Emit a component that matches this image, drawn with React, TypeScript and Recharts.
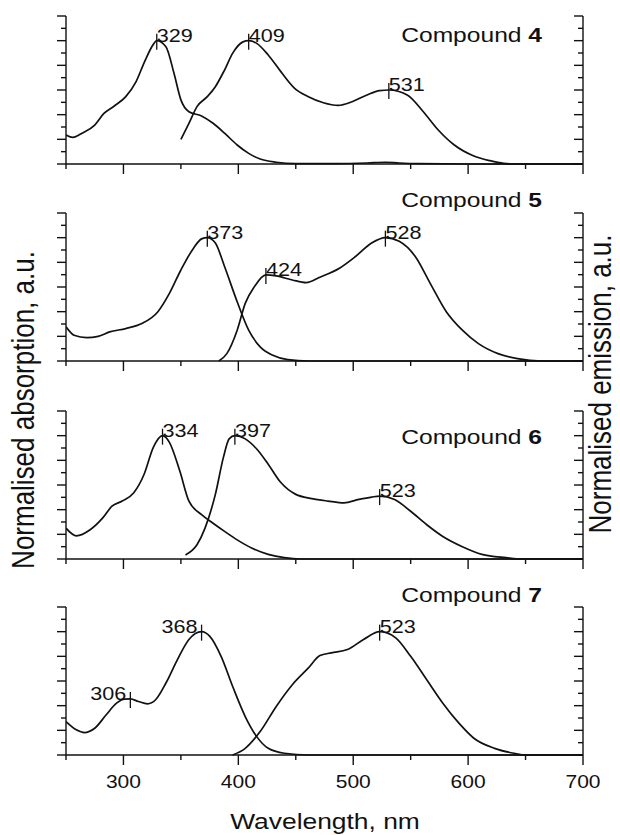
import React from 'react'
import { ComposedChart, Line, Scatter, XAxis, YAxis } from 'recharts'

type Pt = [number, number]
type Peak = { wl: number; v: number; side: 'left' | 'right' }

const xTicks = [250, 300, 350, 400, 450, 500, 550, 600, 650, 700]
const yTicks = [0, 0.1, 0.2, 0.3, 0.4, 0.5, 0.6, 0.7, 0.8, 0.9, 1, 1.1, 1.2]
const compounds = ['4', '5', '6', '7']

// compound 4
const abs4: Pt[] = [
  [250, 0.235], [256, 0.216], [264, 0.25], [275, 0.316], [283, 0.41], [292, 0.47],
  [302, 0.546], [311, 0.668], [319, 0.843], [326, 0.97], [329, 1.0], [337, 0.95],
  [344, 0.735], [350, 0.52], [357, 0.424], [368, 0.39], [378, 0.33], [388, 0.25],
  [399, 0.154], [409, 0.086], [419, 0.04], [433, 0.014], [450, 0.003], [485, 0.003],
  [512, 0.008], [528, 0.014], [540, 0.008], [557, 0.003], [600, 0], [700, 0],
]
const em4: Pt[] = [
  [350, 0.2], [357, 0.33], [364, 0.465], [373, 0.546], [380, 0.627], [388, 0.762],
  [395, 0.897], [404, 0.99], [409, 1.0], [416, 0.978], [426, 0.884], [437, 0.749],
  [449, 0.614], [461, 0.546], [474, 0.497], [487, 0.476], [499, 0.505], [512, 0.56],
  [523, 0.595], [531, 0.6], [547, 0.56], [561, 0.424], [574, 0.276], [588, 0.154],
  [605, 0.065], [619, 0.027], [631, 0.005], [640, 0], [700, 0],
]
const peaks4: Peak[] = [
  { wl: 329, v: 1.0, side: 'right' },
  { wl: 409, v: 1.0, side: 'right' },
  { wl: 531, v: 0.6, side: 'right' },
]

// compound 5
const abs5: Pt[] = [
  [250, 0.277], [257, 0.209], [268, 0.19], [278, 0.2], [288, 0.236], [302, 0.263],
  [316, 0.304], [330, 0.4], [340, 0.548], [350, 0.738], [361, 0.915], [368, 0.99],
  [373, 1.0], [380, 0.956], [388, 0.766], [399, 0.48], [409, 0.25], [419, 0.114],
  [430, 0.046], [443, 0.011], [461, 0], [700, 0],
]
const em5: Pt[] = [
  [383, 0], [390, 0.06], [399, 0.25], [406, 0.467], [414, 0.603], [424, 0.698],
  [433, 0.69], [447, 0.657], [459, 0.635], [471, 0.679], [488, 0.752], [502, 0.847],
  [516, 0.956], [528, 1.0], [540, 0.97], [554, 0.847], [567, 0.63], [581, 0.4],
  [595, 0.25], [609, 0.141], [626, 0.06], [643, 0.019], [664, 0], [700, 0],
]
const peaks5: Peak[] = [
  { wl: 373, v: 1.0, side: 'right' },
  { wl: 424, v: 0.698, side: 'right' },
  { wl: 528, v: 1.0, side: 'right' },
]

// compound 6
const abs6: Pt[] = [
  [250, 0.25], [259, 0.188], [271, 0.237], [282, 0.333], [290, 0.428], [299, 0.47],
  [309, 0.537], [318, 0.687], [326, 0.905], [334, 1.0], [340, 0.946], [349, 0.715],
  [357, 0.469], [368, 0.36], [378, 0.29], [388, 0.224], [399, 0.155], [412, 0.087],
  [426, 0.038], [440, 0.011], [454, 0], [700, 0],
]
const em6: Pt[] = [
  [354, 0.033], [364, 0.115], [371, 0.25], [380, 0.524], [387, 0.824], [392, 0.974],
  [397, 1.0], [406, 0.974], [416, 0.892], [426, 0.769], [437, 0.62], [450, 0.524],
  [464, 0.49], [478, 0.47], [492, 0.455], [505, 0.483], [516, 0.502], [523, 0.51],
  [536, 0.483], [550, 0.387], [564, 0.278], [578, 0.183], [595, 0.1], [612, 0.038],
  [633, 0.011], [647, 0], [700, 0],
]
const peaks6: Peak[] = [
  { wl: 334, v: 1.0, side: 'right' },
  { wl: 397, v: 1.0, side: 'right' },
  { wl: 523, v: 0.51, side: 'right' },
]

// compound 7
const abs7: Pt[] = [
  [250, 0.271], [259, 0.204], [266, 0.182], [275, 0.217], [285, 0.326], [294, 0.42],
  [301, 0.453], [306, 0.455], [313, 0.434], [321, 0.415], [328, 0.448], [337, 0.584],
  [347, 0.774], [357, 0.937], [368, 1.0], [375, 0.964], [385, 0.8], [395, 0.557],
  [406, 0.312], [416, 0.149], [426, 0.054], [440, 0.014], [461, 0], [700, 0],
]
const em7: Pt[] = [
  [395, 0], [406, 0.054], [419, 0.19], [433, 0.394], [447, 0.57], [461, 0.706],
  [471, 0.806], [481, 0.828], [495, 0.855], [509, 0.937], [523, 1.0], [537, 0.95],
  [550, 0.8], [564, 0.61], [578, 0.42], [592, 0.258], [605, 0.136], [623, 0.054],
  [640, 0.014], [650, 0], [700, 0],
]
const peaks7: Peak[] = [
  { wl: 306, v: 0.455, side: 'left' },
  { wl: 368, v: 1.0, side: 'left' },
  { wl: 523, v: 1.0, side: 'right' },
]

const absorption = [abs4, abs5, abs6, abs7]
const emission = [em4, em5, em6, em7]
const peaks = [peaks4, peaks5, peaks6, peaks7]

const FONT = '"Liberation Sans", Arial, sans-serif'
const INK = '#111'
const STRETCH = 1.2 // the source figure's lettering is wider than Arial
const panelTops = [16, 213, 411, 607]
const labelBaselines = [42, 207, 444, 602]
const PLOT_H = 148
const TOP_M = 10

const toRows = (pts: Pt[]) => pts.map(([x, y]) => ({ x, y }))

function Wide({ x, y, size, anchor = 'start', children }: any) {
  return (
    <text
      transform={`translate(${x} ${y}) scale(${STRETCH} 1)`}
      textAnchor={anchor}
      fontSize={size}
      fill={INK}
      fontFamily={FONT}
    >
      {children}
    </text>
  )
}

function YTick(props: any) {
  const { x, y, payload } = props
  const major = Math.round(payload.value * 10) % 2 === 0
  const len = major ? 9 : 5
  return <line x1={x - len} x2={x} y1={y} y2={y} stroke={INK} strokeWidth={1.4} />
}

function XTick(props: any) {
  const { x, y, payload, labels } = props
  const major = payload.value % 100 === 0
  return (
    <g>
      <line x1={x} x2={x} y1={y} y2={y + (major ? 10 : 5)} stroke={INK} strokeWidth={1.4} />
      {labels && major && (
        <Wide x={x} y={y + 33} size={17.5} anchor="middle">
          {payload.value}
        </Wide>
      )}
    </g>
  )
}

function PeakMark(props: any) {
  const { cx, cy, payload } = props
  const left = payload.side === 'left'
  return (
    <g>
      <line x1={cx} x2={cx} y1={cy - 7} y2={cy + 9} stroke={INK} strokeWidth={1.3} />
      <Wide x={left ? cx - 4 : cx} y={cy + 1} size={18} anchor={left ? 'end' : 'start'}>
        {payload.wl}
      </Wide>
    </g>
  )
}

function Panel({ i }: { i: number }) {
  const last = i === compounds.length - 1
  return (
    <div style={{ position: 'absolute', left: 0, top: panelTops[i] - TOP_M }}>
      <ComposedChart
        width={620}
        height={TOP_M + PLOT_H + 45}
        margin={{ top: TOP_M, right: 27, bottom: 0, left: 56 }}
      >
        <XAxis
          type="number"
          dataKey="x"
          domain={[250, 700]}
          ticks={xTicks}
          interval={0}
          allowDataOverflow
          height={45}
          tickSize={0}
          tickMargin={0}
          tickLine={false}
          axisLine={{ stroke: INK, strokeWidth: 1.4 }}
          tick={(p: any) => <XTick {...p} labels={last} />}
        />
        <YAxis
          yAxisId="left"
          type="number"
          domain={[0, 1.2]}
          ticks={yTicks}
          interval={0}
          width={10}
          tickSize={0}
          tickMargin={0}
          tickLine={false}
          axisLine={{ stroke: INK, strokeWidth: 1.4 }}
          tick={(p: any) => <YTick {...p} />}
        />
        <YAxis
          yAxisId="right"
          orientation="right"
          type="number"
          domain={[0, 1.2]}
          ticks={yTicks}
          interval={0}
          width={10}
          tickSize={0}
          tickMargin={0}
          tickLine={false}
          axisLine={{ stroke: INK, strokeWidth: 1.4 }}
          tick={(p: any) => <YTick {...p} />}
        />
        <Line
          yAxisId="left"
          data={toRows(absorption[i])}
          dataKey="y"
          type="monotone"
          stroke={INK}
          strokeWidth={1.7}
          dot={false}
          isAnimationActive={false}
        />
        <Line
          yAxisId="right"
          data={toRows(emission[i])}
          dataKey="y"
          type="monotone"
          stroke={INK}
          strokeWidth={1.7}
          dot={false}
          isAnimationActive={false}
        />
        <Scatter
          yAxisId="left"
          data={peaks[i].map((p) => ({ x: p.wl, y: p.v, wl: p.wl, side: p.side }))}
          dataKey="y"
          shape={(p: any) => <PeakMark {...p} />}
          isAnimationActive={false}
        />
      </ComposedChart>
    </div>
  )
}

export default function App() {
  return (
    <div style={{ position: 'absolute', left: 0, top: 0, width: 620, height: 835, background: '#fff', fontFamily: FONT }}>
      {compounds.map((c, i) => (
        <Panel key={c} i={i} />
      ))}
      <svg width={620} height={835} style={{ position: 'absolute', left: 0, top: 0, pointerEvents: 'none' }}>
        {compounds.map((c, i) => (
          <Wide key={c} x={542} y={labelBaselines[i]} size={20.5} anchor="end">
            Compound <tspan fontWeight="bold">{c}</tspan>
          </Wide>
        ))}
        <Wide x={325} y={829} size={22} anchor="middle">
          Wavelength, nm
        </Wide>
        <text
          transform={`translate(34 410) scale(${STRETCH} 1) rotate(-90)`}
          textAnchor="middle"
          fontSize={26}
          fill={INK}
          fontFamily={FONT}
        >
          Normalised absorption, a.u.
        </text>
        <text
          transform={`translate(611 384) scale(${STRETCH} 1) rotate(-90)`}
          textAnchor="middle"
          fontSize={26}
          fill={INK}
          fontFamily={FONT}
        >
          Normalised emission, a.u.
        </text>
      </svg>
    </div>
  )
}
